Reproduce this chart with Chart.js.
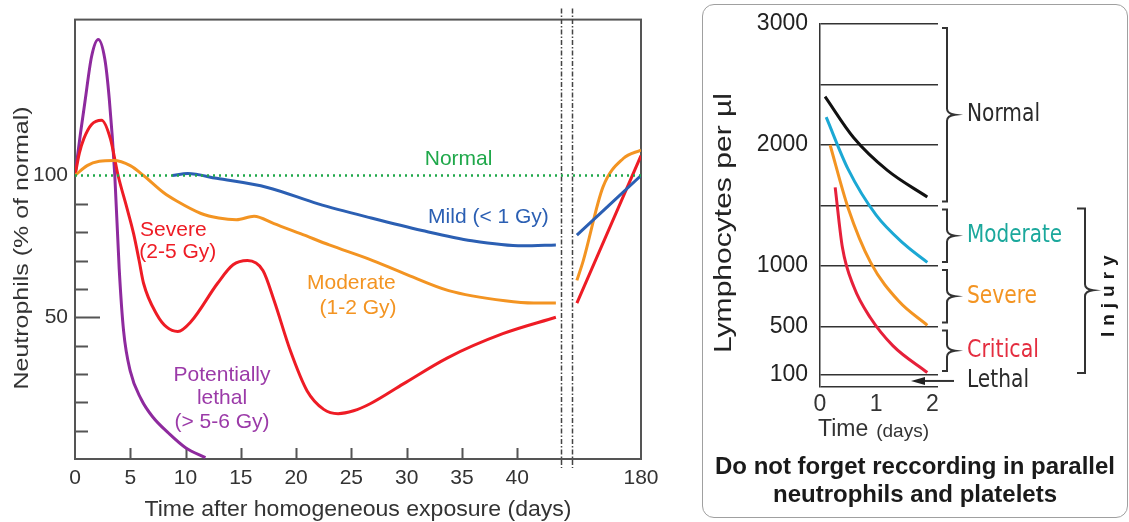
<!DOCTYPE html>
<html>
<head>
<meta charset="utf-8">
<script src="https://cdn.jsdelivr.net/npm/chart.js@4.4.1/dist/chart.umd.min.js"></script>
<style>
  body { margin: 0; background: #fff; width: 1129px; height: 522px; overflow: hidden; position: relative; font-family: "Liberation Sans", Arial, sans-serif; }
  #neutro { position: absolute; left: 0; top: 0; }
  #panel { position: absolute; left: 702px; top: 4px; width: 426px; height: 514px; border: 1.5px solid #a0a0a0; border-radius: 12px; box-sizing: border-box; }
  #lympho { position: absolute; left: 702px; top: 4px; }
  #note { position: absolute; left: 702px; top: 452px; width: 426px; text-align: center; font: bold 24px/28px "Liberation Sans", Arial, sans-serif; color: #1a1a1a; }
</style>
</head>
<body>
<div id="panel"></div>
<canvas id="neutro" width="680" height="522"></canvas>
<canvas id="lympho" width="426" height="514"></canvas>
<div id="note">Do not forget reccording in parallel<br>neutrophils and platelets</div>
<script>
// ---------- left: neutrophils (% of normal) ----------
const xTickDays = [0, 5, 10, 15, 20, 25, 30, 35, 40, 180];
const yTickVals = [50, 100];
const yMinorVals = [10, 20, 30, 40, 60, 70, 80, 90];

const lethalDays = [0, 0.5, 0.9, 1.5, 2.1, 2.7, 3.1, 3.6, 4.0, 4.4, 5.0, 6.0, 7.0, 8.5, 10.0, 11.8];
const lethalVals = [100, 115, 126, 142, 148, 141, 127, 100, 67, 45, 31, 21, 15, 9, 4, 0.5];

const severeDays = [0, 0.4, 0.8, 1.5, 2.4, 3.2, 3.9, 4.7, 5.3, 5.8, 6.2, 7.4, 8.3, 9.3, 10.5, 12.9, 14.3, 15.6, 17, 18, 19.5, 21, 22.5, 23.8, 25.2, 26.7, 29.7, 33.7, 38.7, 43.5];
const severeVals = [100, 108, 113, 118, 119.5, 113, 100, 88.5, 79.5, 70, 62, 51, 46.5, 45, 48.5, 62, 68.5, 70, 66.5, 56, 38, 24, 17.5, 16, 17, 19.5, 26.5, 35.7, 44.2, 50];
const severeLateDays = [50, 180];
const severeLateVals = [55, 107];

const moderateDays = [0, 1.1, 2.2, 3.5, 5, 6.2, 8, 9.2, 11.4, 13, 14.6, 16.2, 18, 20.4, 23, 26.6, 29.8, 33.8, 38.9, 41.5, 43.5];
const moderateVals = [100, 103.5, 105, 105.3, 103.5, 100, 94, 91, 86.6, 85, 84.4, 85.6, 83, 79.5, 75.5, 70.5, 65.4, 59.4, 55.8, 55, 55];
const moderateLateDays = [50, 63, 103, 144, 180];
const moderateLateVals = [63, 70, 96, 106, 109];

const mildDays = [8.8, 10.2, 12.8, 17.4, 22, 26.8, 31.4, 35.9, 40.5, 43.5];
const mildVals = [100, 100.7, 99, 95.8, 90, 85, 80.6, 77, 75.2, 75.5];
const mildLateDays = [50, 180];
const mildLateVals = [79, 100];

const normalDays = [0, 180];
const normalVals = [100, 100];

// axis break: days up to 44 are drawn as is, 50..180 squeezed behind the break
const X_MAX = 51.2, BREAK_A = 44.0, BREAK_B = 45.0, LATE_START = 45.4;
function axisPos(d) {
  return d <= 44 ? d : LATE_START + (d - 50) * (X_MAX - LATE_START) / 130;
}
function pts(days, vals) {
  return days.map((d, i) => ({ x: axisPos(d), y: vals[i] }));
}

const C_PURPLE = '#8e2a9e', C_RED = '#ee1c25', C_ORANGE = '#f39422', C_BLUE = '#2b5fb3', C_GREEN = '#1fa84a';
const SANS = '"Liberation Sans", Arial, sans-serif';
const NARROW = '"Liberation Sans Narrow", "DejaVu Sans Condensed", sans-serif';

Chart.defaults.font.family = SANS;

function text(ctx, str, x, y, font, color, align, width, rot) {
  ctx.save();
  ctx.translate(x, y);
  if (rot) ctx.rotate(rot);
  ctx.font = font;
  ctx.fillStyle = color;
  ctx.textAlign = align || 'center';
  ctx.textBaseline = 'middle';
  if (width) {
    const w = ctx.measureText(str).width;
    ctx.scale(width / w, 1);
  }
  ctx.fillText(str, 0, 0);
  ctx.restore();
}

function line(data, color, width, dash) {
  return {
    data: data,
    borderColor: color,
    borderWidth: width || 3,
    borderDash: dash || [],
    pointRadius: 0,
    fill: false,
    cubicInterpolationMode: 'monotone'
  };
}

const leftDecor = {
  id: 'leftDecor',
  beforeDatasetsDraw(chart) {
    const { ctx, chartArea: a, scales: { x, y } } = chart;
    ctx.save();
    ctx.strokeStyle = '#555';
    ctx.lineWidth = 2;
    ctx.strokeRect(a.left, a.top, a.right - a.left, a.bottom - a.top);
    ctx.beginPath();
    yMinorVals.forEach(v => {
      const py = Math.round(y.getPixelForValue(v)) + 0.5;
      ctx.moveTo(a.left, py); ctx.lineTo(a.left + 13, py);
    });
    const p50 = Math.round(y.getPixelForValue(50)) + 0.5;
    ctx.moveTo(a.left, p50); ctx.lineTo(a.left + 25, p50);
    xTickDays.slice(1, -1).forEach(d => {
      const px = Math.round(x.getPixelForValue(axisPos(d))) + 0.5;
      ctx.moveTo(px, a.bottom); ctx.lineTo(px, a.bottom - 11);
    });
    ctx.stroke();
    // break marks
    ctx.strokeStyle = '#444';
    ctx.lineWidth = 1.5;
    ctx.setLineDash([5, 2, 1.5, 2]);
    [BREAK_A, BREAK_B].forEach(b => {
      const px = Math.round(x.getPixelForValue(b)) + 0.5;
      ctx.beginPath();
      ctx.moveTo(px, a.top - 11); ctx.lineTo(px, a.bottom + 9);
      ctx.stroke();
    });
    ctx.restore();
  },
  afterDatasetsDraw(chart) {
    const { ctx, scales: { x, y } } = chart;
    const f = '21px ' + SANS;
    const X = v => x.getPixelForValue(v), Y = v => y.getPixelForValue(v);
    text(ctx, 'Normal', X(34.7), Y(105.6), f, C_GREEN);
    text(ctx, 'Mild (< 1 Gy)', X(37.4), Y(85.2), f, C_BLUE);
    text(ctx, 'Severe', X(8.9), Y(80.6), f, C_RED);
    text(ctx, '(2-5 Gy)', X(9.3), Y(72.9), f, C_RED);
    text(ctx, 'Moderate', X(25), Y(62), f, C_ORANGE);
    text(ctx, '(1-2 Gy)', X(25.6), Y(53.2), f, C_ORANGE);
    text(ctx, 'Potentially', X(13.3), Y(29.6), f, '#9b3aa8');
    text(ctx, 'lethal', X(13.3), Y(21.5), f, '#9b3aa8');
    text(ctx, '(> 5-6 Gy)', X(13.3), Y(13), f, '#9b3aa8');
    // axis titles
    text(ctx, 'Neutrophils (% of normal)', 22, 248, '21px ' + SANS, '#333', 'center', 283, -Math.PI / 2);
    text(ctx, 'Time after homogeneous exposure (days)', 358, 510, '22px ' + SANS, '#333', 'center', 427);
  }
};

new Chart(document.getElementById('neutro'), {
  type: 'line',
  data: {
    datasets: [
      line(pts(normalDays, normalVals), C_GREEN, 2.5, [2, 4]),
      line(pts(mildDays, mildVals), C_BLUE),
      line(pts(mildLateDays, mildLateVals), C_BLUE),
      line(pts(moderateDays, moderateVals), C_ORANGE),
      line(pts(moderateLateDays, moderateLateVals), C_ORANGE),
      line(pts(severeDays, severeVals), C_RED),
      line(pts(severeLateDays, severeLateVals), C_RED),
      line(pts(lethalDays, lethalVals), C_PURPLE)
    ]
  },
  options: {
    responsive: false,
    animation: false,
    layout: { padding: { top: 18, right: 39, left: 0, bottom: 0 } },
    plugins: { legend: { display: false }, tooltip: { enabled: false } },
    scales: {
      x: {
        type: 'linear', min: 0, max: X_MAX,
        grid: { display: false, drawTicks: false },
        border: { display: false },
        afterBuildTicks: s => { s.ticks = xTickDays.map(d => ({ value: axisPos(d) })); },
        afterFit: s => { s.height = 63; },
        ticks: {
          autoSkip: false, maxRotation: 0, padding: 7, color: '#333',
          font: { size: 21 },
          callback: (v, i) => String(xTickDays[i])
        }
      },
      y: {
        min: 0, max: 155,
        grid: { display: false, drawTicks: false },
        border: { display: false },
        afterBuildTicks: s => { s.ticks = yTickVals.map(v => ({ value: v })); },
        afterFit: s => { s.width = 75; },
        ticks: { padding: 7, color: '#333', font: { size: 21 } }
      }
    }
  },
  plugins: [leftDecor]
});

// ---------- right: lymphocytes per µl ----------
const lymGrid = [0, 100, 500, 1000, 1500, 2000, 2500, 3000];
const lymLabels = [100, 500, 1000, 2000, 3000];
const dayTicks = [0, 1, 2];

const normT = [0.09, 0.6, 1.2, 1.91];
const normV = [2400, 2060, 1790, 1570];
const modT = [0.11, 0.5, 1.0, 1.5, 1.91];
const modV = [2230, 1800, 1420, 1180, 1030];
const sevT = [0.18, 0.5, 0.9, 1.4, 1.91];
const sevV = [2000, 1480, 1030, 710, 510];
const critT = [0.27, 0.4, 0.6, 0.9, 1.3, 1.91];
const critV = [1650, 1150, 830, 570, 340, 120];

const zoneNames = ['Normal', 'Moderate', 'Severe', 'Critical'];
const zoneBounds = [3000, 1500, 1000, 500, 100];
const zoneColors = ['#2a2a2a', '#1ba89c', '#f39422', '#e42d3f'];
const zoneLabelW = [73, 95, 70, 72];
const lethalLevel = 50;

function brace(ctx, x, top, bot, tip, serif, point) {
  ctx.beginPath();
  ctx.moveTo(x - serif, top);
  ctx.lineTo(x, top);
  ctx.lineTo(x, tip - 6);
  ctx.quadraticCurveTo(x, tip - 1, x + point, tip);
  ctx.quadraticCurveTo(x, tip + 1, x, tip + 6);
  ctx.lineTo(x, bot);
  ctx.lineTo(x - serif, bot);
  ctx.stroke();
}

const rightDecor = {
  id: 'rightDecor',
  afterDraw(chart) {
    const { ctx, chartArea: a, scales: { x, y } } = chart;
    const Y = v => y.getPixelForValue(v);
    ctx.save();
    ctx.strokeStyle = '#333';
    ctx.lineWidth = 2;
    zoneNames.forEach((name, i) => {
      const t = Y(zoneBounds[i]) + 4, b = Y(zoneBounds[i + 1]) - 4;
      const mid = (Y(zoneBounds[i]) + Y(zoneBounds[i + 1])) / 2;
      brace(ctx, a.right + 9, t, b, mid, 5, 8);
      text(ctx, name, a.right + 29, mid, '25px ' + NARROW, zoneColors[i], 'left', zoneLabelW[i]);
    });
    // injury brace
    const it = Y(zoneBounds[1]) + 3, ib = Y(zoneBounds[4]) - 2;
    const im = (Y(zoneBounds[1]) + Y(zoneBounds[4])) / 2;
    brace(ctx, a.right + 147, it, ib, im, 8, 8);
    ctx.save();
    ctx.letterSpacing = '6px';
    text(ctx, 'Injury', a.right + 171, im + 3, 'bold 19px ' + SANS, '#1a1a1a', 'center', null, -Math.PI / 2);
    ctx.restore();
    // lethal arrow
    const ly = Y(lethalLevel);
    ctx.beginPath();
    ctx.moveTo(a.right + 16, ly); ctx.lineTo(a.right - 16, ly);
    ctx.stroke();
    ctx.fillStyle = '#222';
    ctx.beginPath();
    ctx.moveTo(a.right - 27, ly);
    ctx.lineTo(a.right - 13, ly - 4);
    ctx.lineTo(a.right - 13, ly + 4);
    ctx.closePath();
    ctx.fill();
    text(ctx, 'Lethal', a.right + 29, ly, '25px ' + NARROW, '#2a2a2a', 'left', 62);
    // axis titles
    const cx = x.getPixelForValue(1);
    text(ctx, 'Time', cx - 8, 426, '23px ' + SANS, '#333', 'right');
    text(ctx, '(days)', cx, 428, '19px ' + SANS, '#333', 'left');
    text(ctx, 'Lymphocytes per \u00b5l', 23, 219, '23px ' + SANS, '#222', 'center', 260, -Math.PI / 2);
    ctx.restore();
  }
};

new Chart(document.getElementById('lympho'), {
  type: 'line',
  data: {
    datasets: [
      line(normT.map((t, i) => ({ x: t, y: normV[i] })), '#111'),
      line(modT.map((t, i) => ({ x: t, y: modV[i] })), '#1ba8d4'),
      line(sevT.map((t, i) => ({ x: t, y: sevV[i] })), C_ORANGE),
      line(critT.map((t, i) => ({ x: t, y: critV[i] })), '#e6203a')
    ]
  },
  options: {
    responsive: false,
    animation: false,
    layout: { padding: { top: 20, right: 190, left: 0, bottom: 0 } },
    plugins: { legend: { display: false }, tooltip: { enabled: false } },
    scales: {
      x: {
        type: 'linear', min: 0, max: 2.1,
        grid: { display: false, drawTicks: false },
        border: { display: false },
        afterBuildTicks: s => { s.ticks = dayTicks.map(v => ({ value: v })); },
        afterFit: s => { s.height = 131; },
        ticks: { autoSkip: false, maxRotation: 0, padding: 4, color: '#333', font: { size: 23 } }
      },
      y: {
        min: 0, max: 3000,
        grid: { display: true, drawTicks: false, color: '#333', lineWidth: 1.5 },
        border: { display: true, color: '#333', width: 1.5 },
        afterBuildTicks: s => { s.ticks = lymGrid.map(v => ({ value: v })); },
        afterFit: s => { s.width = 118; s.paddingTop = 0; s.paddingBottom = 0; },
        ticks: {
          padding: 12, color: '#222', font: { size: 23 },
          callback: v => lymLabels.includes(v) ? String(v) : ''
        }
      }
    }
  },
  plugins: [rightDecor]
});
</script>
</body>
</html>
